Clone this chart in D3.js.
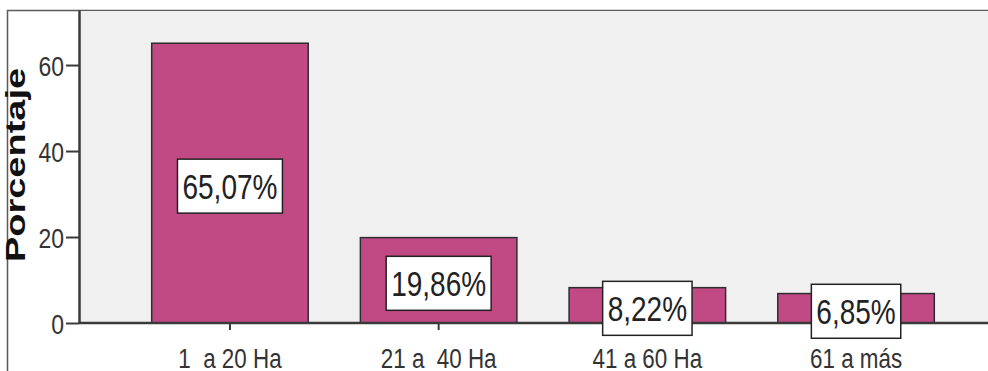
<!DOCTYPE html>
<html>
<head>
<meta charset="utf-8">
<script src="https://cdn.jsdelivr.net/npm/d3@7"></script>
<style>
  body { margin: 0; background: #ffffff; }
  svg { display: block; font-family: Arial, "Liberation Sans", sans-serif; }
</style>
</head>
<body>
<div id="chart"></div>
<script>
// Data
const categories = ["1  a 20 Ha", "21 a  40 Ha", "41 a 60 Ha", "61 a más"];
const percentages = [65.07, 19.86, 8.22, 6.85];
const yTicks = [0, 20, 40, 60];
const yMax = 72.8;

const width = 988, height = 371;
const plot = { left: 79, top: 10, right: 988, bottom: 323 };

const svg = d3.select('#chart')
    .append('svg')
    .attr('width', width)
    .attr('height', height);

// Outer frame (left + top)
svg.append('path')
    .attr('d', `M7.5,${height} V10.5 H${width}`)
    .attr('fill', 'none')
    .attr('stroke', '#5a5a5a')
    .attr('stroke-width', 1.5);

// Plot background
svg.append('rect')
    .attr('x', plot.left)
    .attr('y', plot.top + 1)
    .attr('width', plot.right - plot.left)
    .attr('height', plot.bottom - plot.top - 1)
    .attr('fill', '#f0f0f0');

// Scales
const x = d3.scaleBand()
    .domain(categories)
    .range([125.6, 960.4])
    .paddingInner(0.25)
    .paddingOuter(0.125);

const y = d3.scaleLinear()
    .domain([0, yMax])
    .range([plot.bottom, plot.top]);

// Bars
svg.selectAll('.bar')
    .data(percentages)
    .enter().append('rect')
    .attr('class', 'bar')
    .attr('x', (d, i) => x(categories[i]))
    .attr('y', d => y(d))
    .attr('width', x.bandwidth())
    .attr('height', d => y(0) - y(d))
    .attr('fill', '#c24a84')
    .attr('stroke', '#2e2e2e')
    .attr('stroke-width', 1.5);

// Y axis
const yAxis = d3.axisLeft(y)
    .tickValues(yTicks)
    .tickSize(13)
    .tickSizeOuter(0)
    .tickFormat(d3.format('d'));

const yScaleX = 0.82;
const gy = svg.append('g')
    .attr('transform', `translate(${plot.left},0)`)
    .call(yAxis);
gy.select('.domain').attr('stroke', '#3a3a3a').attr('stroke-width', 2.5);
gy.selectAll('.tick line').attr('stroke', '#3a3a3a').attr('stroke-width', 2);
gy.selectAll('.tick text')
    .attr('x', -15 / yScaleX)
    .attr('dy', '0.38em')
    .attr('transform', `scale(${yScaleX},1)`)
    .attr('fill', '#333')
    .style('font-size', '28px')
    .style('font-family', 'Arial, "Liberation Sans", sans-serif');

// X axis
const xAxis = d3.axisBottom(x)
    .tickSize(7)
    .tickSizeOuter(0);

const xScaleX = 0.8;
const gx = svg.append('g')
    .attr('transform', `translate(0,${plot.bottom})`)
    .call(xAxis);
gx.select('.domain').remove();
gx.selectAll('.tick line').attr('stroke', '#3a3a3a').attr('stroke-width', 2);
gx.selectAll('.tick text')
    .attr('y', 45)
    .attr('dy', 0)
    .attr('transform', `scale(${xScaleX},1)`)
    .attr('fill', '#333')
    .style('white-space', 'pre')
    .style('font-size', '28px')
    .style('font-family', 'Arial, "Liberation Sans", sans-serif');

// Baseline
svg.append('line')
    .attr('x1', plot.left)
    .attr('x2', plot.right)
    .attr('y1', plot.bottom)
    .attr('y2', plot.bottom)
    .attr('stroke', '#3a3a3a')
    .attr('stroke-width', 2.5);

// Value labels with boxes
const labelScaleX = 0.8;
percentages.forEach((d, i) => {
    const cx = x(categories[i]) + x.bandwidth() / 2;
    const cy = (y(d) + y(0)) / 2 + 3;
    const g = svg.append('g').attr('transform', `translate(${cx},${cy})`);
    const box = g.append('rect');
    const t = g.append('text')
        .attr('transform', `scale(${labelScaleX},1)`)
        .attr('text-anchor', 'middle')
        .attr('dy', '0.36em')
        .attr('fill', '#222')
        .style('font-size', '35px')
        .text(d.toFixed(2).replace('.', ',') + '%');
    const w = t.node().getComputedTextLength() * labelScaleX + 10;
    const h = 54;
    box.attr('x', -w / 2)
        .attr('y', -h / 2)
        .attr('width', w)
        .attr('height', h)
        .attr('fill', '#ffffff')
        .attr('stroke', '#222')
        .attr('stroke-width', 1.5);
});

// Y axis title
svg.append('text')
    .attr('transform', 'translate(25,165) rotate(-90) scale(1,0.74)')
    .attr('text-anchor', 'middle')
    .attr('fill', '#111')
    .style('font-size', '38px')
    .style('font-weight', 'bold')
    .text('Porcentaje');
</script>
</body>
</html>
